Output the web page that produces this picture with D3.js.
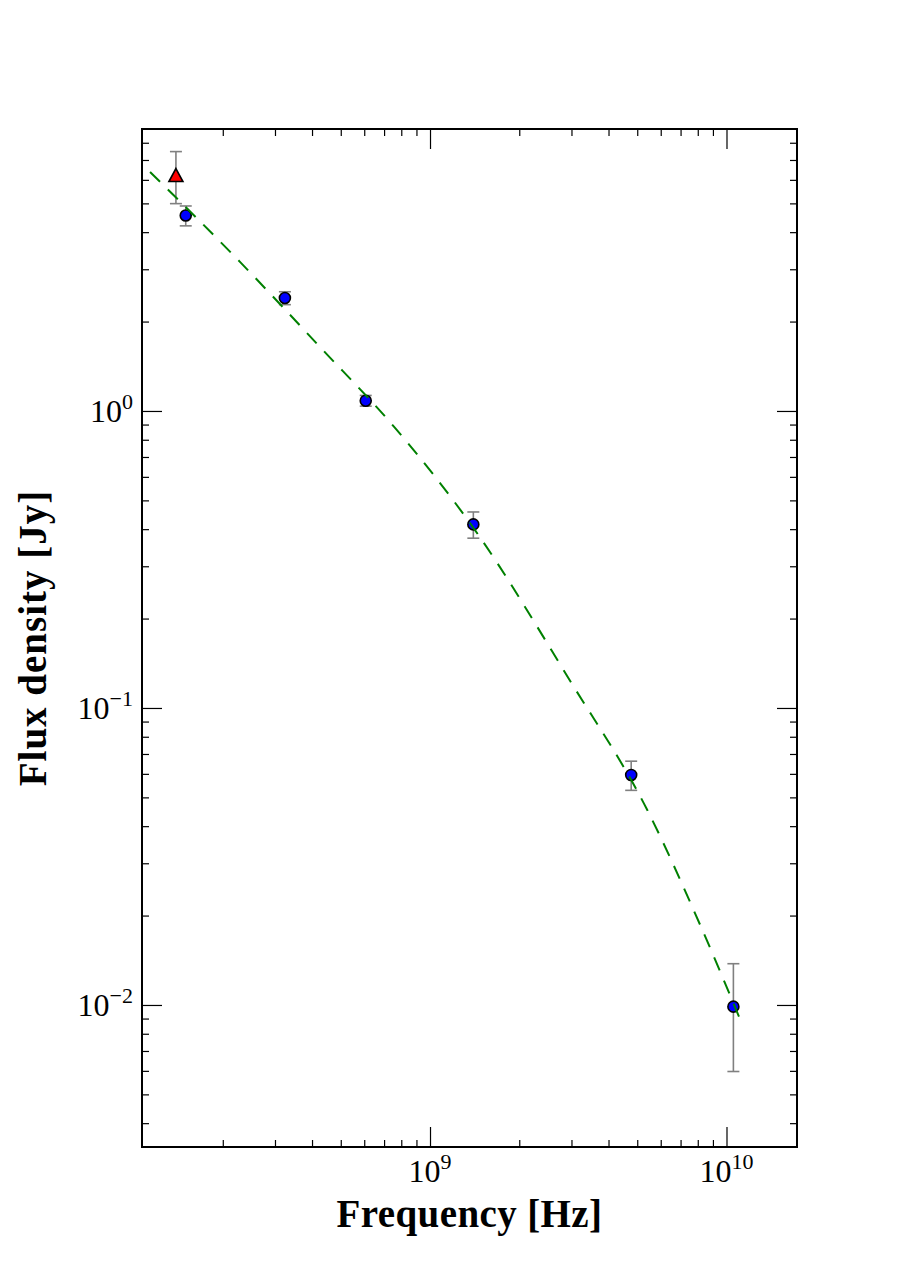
<!DOCTYPE html>
<html>
<head>
<meta charset="utf-8">
<script src="https://cdn.jsdelivr.net/npm/d3@7"></script>
<style>
  body { margin: 0; background: #fff; }
  text { font-family: "Liberation Serif", "DejaVu Serif", serif; fill: #000; }
</style>
</head>
<body>
<div id="chart"></div>
<script>
// measured points (blue circles)
var obsFreq = [1.50e8, 3.24e8, 6.07e8, 1.40e9, 4.77e9, 1.055e10];
var obsFlux = [4.55, 2.40, 1.083, 0.415, 0.0595, 0.00987];
var obsErr  = [0.35, 0.12, 0.045, 0.042, 0.0067, 0.0039];

// extra point (red triangle)
var triFreq = [1.39e8];
var triFlux = [6.23];
var triErr  = [1.24];

// fitted curve
var fitFreq = [1.137e8, 2.29e8, 4.26e8, 7.62e8, 1.418e9, 2.96e9, 5.40e9, 8.15e9, 1.13e10];
var fitFlux = [6.38, 3.17, 1.64, 0.877, 0.397, 0.124, 0.0454, 0.0186, 0.0086];

// axis ticks
var xMajor = [1e9, 1e10];
var yMajor = [1e-2, 1e-1, 1e0];
var xLabels = ["9", "10"];
var yLabels = ["\u22122", "\u22121", "0"];

var W = 919, H = 1275;
var margin = {top: 129, right: 122, bottom: 128, left: 142},
  width = W - margin.left - margin.right,
  height = H - margin.top - margin.bottom;

var svg = d3.select("#chart")
.append("svg")
  .attr("width", W)
  .attr("height", H);

var g = svg.append("g")
  .attr("transform", "translate(" + margin.left + "," + margin.top + ")");

var x = d3.scaleLog().domain([1.068e8, 1.729e10]).range([0, width]);
var y = d3.scaleLog().domain([0.003325, 8.90]).range([height, 0]);

// minor tick values
function minors(lo, hi, scale) {
  var out = [];
  for (var e = lo; e <= hi; e++) {
    for (var m = 2; m <= 9; m++) {
      var v = m * Math.pow(10, e);
      var d = scale.domain();
      if (v > d[0] && v < d[1]) out.push(v);
    }
  }
  return out;
}
var xMinor = minors(8, 10, x);
var yMinor = minors(-3, 0, y);

var majLen = 20, minLen = 7;

// bottom and top ticks
g.append("g").attr("transform", "translate(0," + height + ")")
  .call(d3.axisBottom(x).tickValues(xMajor).tickSize(-majLen).tickFormat(""));
g.append("g").attr("transform", "translate(0," + height + ")")
  .call(d3.axisBottom(x).tickValues(xMinor).tickSize(-minLen).tickFormat(""));
g.append("g")
  .call(d3.axisTop(x).tickValues(xMajor).tickSize(-majLen).tickFormat(""));
g.append("g")
  .call(d3.axisTop(x).tickValues(xMinor).tickSize(-minLen).tickFormat(""));
// left and right ticks
g.append("g")
  .call(d3.axisLeft(y).tickValues(yMajor).tickSize(-majLen).tickFormat(""));
g.append("g")
  .call(d3.axisLeft(y).tickValues(yMinor).tickSize(-minLen).tickFormat(""));
g.append("g").attr("transform", "translate(" + width + ",0)")
  .call(d3.axisRight(y).tickValues(yMajor).tickSize(-majLen).tickFormat(""));
g.append("g").attr("transform", "translate(" + width + ",0)")
  .call(d3.axisRight(y).tickValues(yMinor).tickSize(-minLen).tickFormat(""));

g.selectAll(".domain").remove();
g.selectAll(".tick line").attr("stroke", "#000").attr("stroke-width", 1.2);

// tick labels with superscripts
xMajor.forEach(function(v, i) {
  var t = g.append("text")
    .attr("x", x(v))
    .attr("y", height + 35)
    .attr("text-anchor", "middle")
    .style("font-size", "32px");
  t.append("tspan").text("10");
  t.append("tspan").attr("dy", -13).style("font-size", "22px").text(xLabels[i]);
});
yMajor.forEach(function(v, i) {
  var t = g.append("text")
    .attr("x", -9)
    .attr("y", y(v) + 11)
    .attr("text-anchor", "end")
    .style("font-size", "32px");
  t.append("tspan").text("10");
  t.append("tspan").attr("dy", -13).style("font-size", "22px").text(yLabels[i]);
});

// frame
g.append("rect")
  .attr("width", width)
  .attr("height", height)
  .attr("fill", "none")
  .attr("stroke", "#000")
  .attr("stroke-width", 2);

// axis titles
svg.append("text")
  .attr("x", margin.left + width / 2)
  .attr("y", 1227)
  .attr("text-anchor", "middle")
  .style("font-size", "39px")
  .style("font-weight", "bold")
  .style("letter-spacing", "0.4px")
  .text("Frequency [Hz]");
svg.append("text")
  .attr("transform", "translate(46," + (margin.top + height / 2) + ") rotate(-90)")
  .attr("text-anchor", "middle")
  .style("font-size", "39px")
  .style("font-weight", "bold")
  .style("letter-spacing", "1px")
  .text("Flux density [Jy]");

// error bars
var obs = obsFreq.map(function(f, i) { return {f: f, s: obsFlux[i], e: obsErr[i]}; });
var tri = triFreq.map(function(f, i) { return {f: f, s: triFlux[i], e: triErr[i]}; });

function errorBars(data) {
  var eb = g.append("g").attr("stroke", "#808080").attr("stroke-width", 1.6);
  data.forEach(function(d) {
    var cx = x(d.f), y0 = y(d.s + d.e), y1 = y(d.s - d.e);
    eb.append("line").attr("x1", cx).attr("x2", cx).attr("y1", y0).attr("y2", y1);
    eb.append("line").attr("x1", cx - 6).attr("x2", cx + 6).attr("y1", y0).attr("y2", y0);
    eb.append("line").attr("x1", cx - 6).attr("x2", cx + 6).attr("y1", y1).attr("y2", y1);
  });
}
errorBars(tri);
errorBars(obs);

// markers
g.selectAll(".tri")
  .data(tri)
  .enter()
  .append("path")
    .attr("class", "tri")
    .attr("d", function(d) {
      var cx = x(d.f), cy = y(d.s);
      return "M" + cx + "," + (cy - 6.5) + "L" + (cx + 7) + "," + (cy + 6.5) + "L" + (cx - 7) + "," + (cy + 6.5) + "Z";
    })
    .attr("fill", "#ff0000")
    .attr("stroke", "#000")
    .attr("stroke-width", 1.6)
    .attr("stroke-linejoin", "miter");

g.selectAll(".obs")
  .data(obs)
  .enter()
  .append("circle")
    .attr("class", "obs")
    .attr("cx", function(d) { return x(d.f); })
    .attr("cy", function(d) { return y(d.s); })
    .attr("r", 5.5)
    .attr("fill", "#0000ff")
    .attr("stroke", "#000")
    .attr("stroke-width", 1.6);

// dashed fit on top
var fit = fitFreq.map(function(f, i) { return [f, fitFlux[i]]; });
g.append("path")
  .datum(fit)
  .attr("d", d3.line()
    .x(function(d) { return x(d[0]); })
    .y(function(d) { return y(d[1]); })
    .curve(d3.curveMonotoneX))
  .attr("fill", "none")
  .attr("stroke", "#008000")
  .attr("stroke-width", 2)
  .attr("stroke-dasharray", "14,11");
</script>
</body>
</html>
